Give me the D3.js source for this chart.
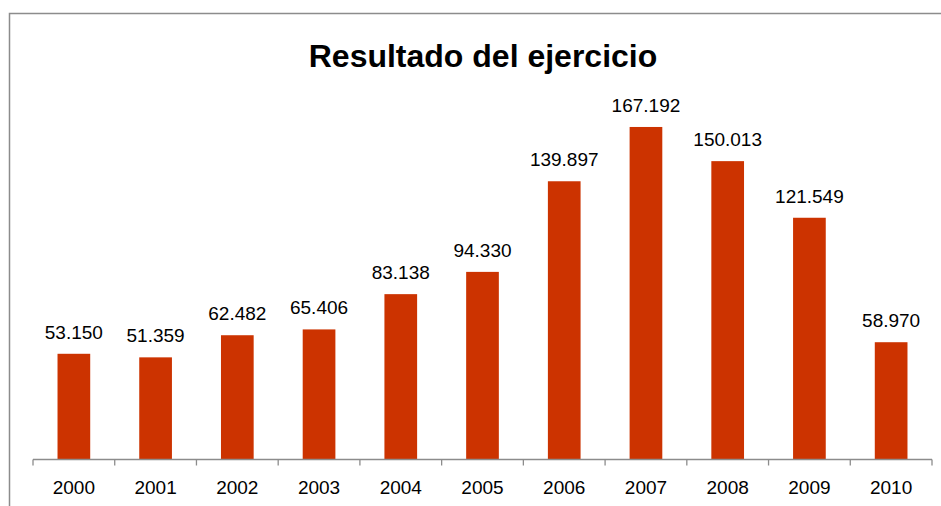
<!DOCTYPE html>
<html>
<head>
<meta charset="utf-8">
<script src="https://cdn.jsdelivr.net/npm/d3@7"></script>
<style>
  body { margin: 0; background: #fff; }
  svg { display: block; }
</style>
</head>
<body>
<div id="chart"></div>
<script>
// data
var years = ["2000","2001","2002","2003","2004","2005","2006","2007","2008","2009","2010"];
var resultado = [53150, 51359, 62482, 65406, 83138, 94330, 139897, 167192, 150013, 121549, 58970];
var valueLabels = ["53.150","51.359","62.482","65.406","83.138","94.330","139.897","167.192","150.013","121.549","58.970"];

var W = 941, H = 506;
var margin = {top: 101.5, right: 9, bottom: 46.5, left: 33},
    width = W - margin.left - margin.right,
    height = H - margin.top - margin.bottom;

var svg = d3.select("#chart")
  .append("svg")
    .attr("width", W)
    .attr("height", H);

// chart border
svg.append("path")
  .attr("d", "M9.5,520 V13.5 H960")
  .attr("fill", "none")
  .attr("stroke", "#8c8c8c")
  .attr("stroke-width", 1.5);

// title
svg.append("text")
  .attr("x", 483)
  .attr("y", 66.5)
  .attr("text-anchor", "middle")
  .style("font-family", "Liberation Sans, Arial, sans-serif")
  .style("font-weight", "bold")
  .style("font-size", "32px")
  .attr("fill", "#000")
  .text("Resultado del ejercicio");

var g = svg.append("g")
  .attr("transform", `translate(${margin.left},${margin.top})`);

// one band per year, bar takes the middle 40%
var xb = d3.scaleBand().domain(years).range([0, width]);

var y = d3.scaleLinear()
  .domain([0, 180000])
  .range([height, 0]);

// bars
g.selectAll("rect.bar")
  .data(resultado)
  .join("rect")
    .attr("class", "bar")
    .attr("x", (d, i) => xb(years[i]) + xb.bandwidth() * 0.3)
    .attr("y", d => y(d))
    .attr("width", xb.bandwidth() * 0.4)
    .attr("height", d => height - y(d))
    .attr("fill", "#cc3300");

// value labels
g.selectAll("text.val")
  .data(resultado)
  .join("text")
    .attr("class", "val")
    .attr("x", (d, i) => xb(years[i]) + xb.bandwidth() / 2)
    .attr("y", d => y(d) - 15)
    .attr("text-anchor", "middle")
    .style("font-family", "Liberation Sans, Arial, sans-serif")
    .style("font-size", "19px")
    .attr("fill", "#000")
    .text((d, i) => valueLabels[i]);

// x axis line and ticks between categories
var axis = g.append("g").attr("transform", `translate(0,${height})`);
axis.append("line")
  .attr("x1", 0).attr("x2", width)
  .attr("y1", 0).attr("y2", 0)
  .attr("stroke", "#8c8c8c")
  .attr("stroke-width", 1.3);

var bounds = years.map(d => xb(d)).concat([width]);
axis.selectAll("line.tick")
  .data(bounds)
  .join("line")
    .attr("class", "tick")
    .attr("x1", d => d).attr("x2", d => d)
    .attr("y1", 0).attr("y2", 6)
    .attr("stroke", "#8c8c8c")
    .attr("stroke-width", 1.3);

axis.selectAll("text.lab")
  .data(years)
  .join("text")
    .attr("class", "lab")
    .attr("x", d => xb(d) + xb.bandwidth() / 2)
    .attr("y", 34.5)
    .attr("text-anchor", "middle")
    .style("font-family", "Liberation Sans, Arial, sans-serif")
    .style("font-size", "19px")
    .attr("fill", "#000")
    .text(d => d);
</script>
</body>
</html>
